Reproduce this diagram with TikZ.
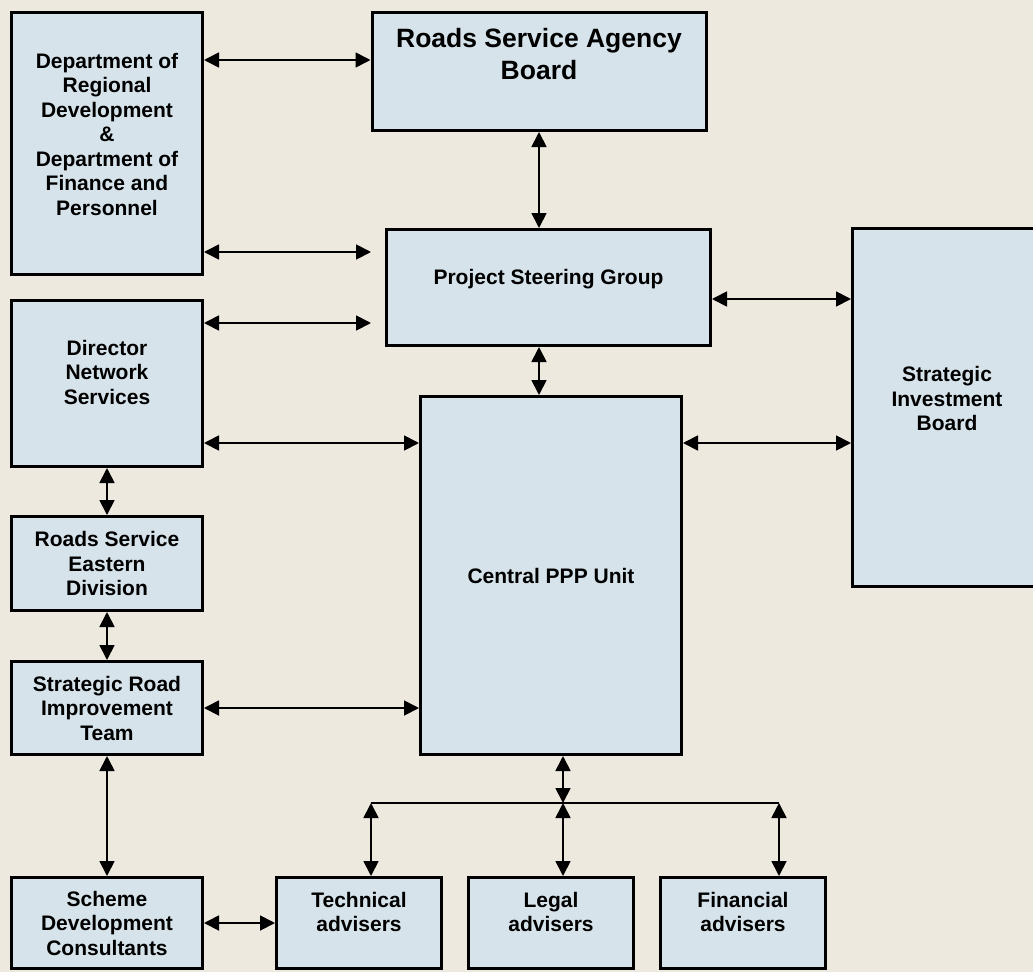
\documentclass[tikz,border=0pt]{standalone}
\usepackage{fontspec}
\setmainfont{Liberation Sans}
\usetikzlibrary{arrows.meta}
\definecolor{bgcol}{RGB}{238,233,222}
\definecolor{boxfill}{RGB}{214,227,234}
\newcommand{\txtlift}[1]{\rule[-#1pt]{0pt}{#1pt}}
\tikzset{
  box/.style={draw,line width=3pt,fill=boxfill,align=center,inner sep=0pt,
    font=\bfseries\fontsize{21}{24.5}\selectfont},
  link/.style={<->,>={Triangle[length=15pt,width=15pt]},line width=1.8pt}
}
\begin{document}
\begin{tikzpicture}[x=1pt,y=-1pt]
\fill[bgcol] (0,0) rectangle (1033,972);
\useasboundingbox (0,0) rectangle (1033,972);
\node[box,minimum width=191,minimum height=262] (drd) at (107,143.5)
  {Department of\\Regional\\Development\\\&\\Department of\\Finance and\\Personnel\txtlift{19}};
\node[box,minimum width=334,minimum height=118,font=\bfseries\fontsize{26.5}{32}\selectfont] (rsab) at (539,71.5)
  {Roads Service Agency\\Board\txtlift{35}};
\node[box,minimum width=324,minimum height=116] (psg) at (548.5,287.5) {Project Steering Group\txtlift{22}};
\node[box,minimum width=189,minimum height=358] (sib) at (947,407.5) {Strategic\\Investment\\Board\txtlift{18}};
\node[box,minimum width=191,minimum height=166] (dns) at (107,383.5) {Director\\Network\\Services\txtlift{23}};
\node[box,minimum width=191,minimum height=94] (rsed) at (107,563.5) {Roads Service\\Eastern\\Division};
\node[box,minimum width=191,minimum height=93] (srit) at (107,708) {Strategic Road\\Improvement\\Team};
\node[box,minimum width=261,minimum height=358] (cpu) at (551,575.5) {Central PPP Unit};
\node[box,minimum width=191,minimum height=91] (sdc) at (107,923) {Scheme\\Development\\Consultants};
\node[box,minimum width=165,minimum height=91] (ta) at (359,923) {Technical\\advisers\txtlift{22}};
\node[box,minimum width=165,minimum height=91] (la) at (551,923) {Legal\\advisers\txtlift{22}};
\node[box,minimum width=165,minimum height=91] (fa) at (743,923) {Financial\\advisers\txtlift{22}};
\coordinate (busL) at (371,803);
\coordinate (bus) at (563,803);
\coordinate (busR) at (779,803);

\draw[link] (drd.east |- 0,60) -- (rsab.west |- 0,60);
\draw[link,shorten >=14pt] (drd.east |- 0,252) -- (psg.west |- 0,252);
\draw[link] (rsab.south) -- (rsab.south |- psg.north);
\draw[link] (psg.east |- 0,299) -- (sib.west |- 0,299);
\draw[link,shorten >=14pt] (dns.east |- 0,323) -- (psg.west |- 0,323);
\draw[link] (dns.east |- 0,443) -- (cpu.west |- 0,443);
\draw[link] (psg.south -| rsab.south) -- (cpu.north -| rsab.south);
\draw[link] (cpu.east |- 0,443) -- (sib.west |- 0,443);
\draw[link] (dns) -- (rsed);
\draw[link] (rsed) -- (srit);
\draw[link] (srit.east) -- (srit.east -| cpu.west);
\draw[link] (srit) -- (sdc);
\draw[link] (sdc) -- (ta);
\draw[link] (cpu.south -| bus) -- (bus);
\draw[line width=1.8pt] (busL) -- (busR);
\foreach \b/\n in {busL/ta,bus/la,busR/fa}
  \draw[link] (\b) -- (\n.north -| \b);
\end{tikzpicture}
\end{document}
